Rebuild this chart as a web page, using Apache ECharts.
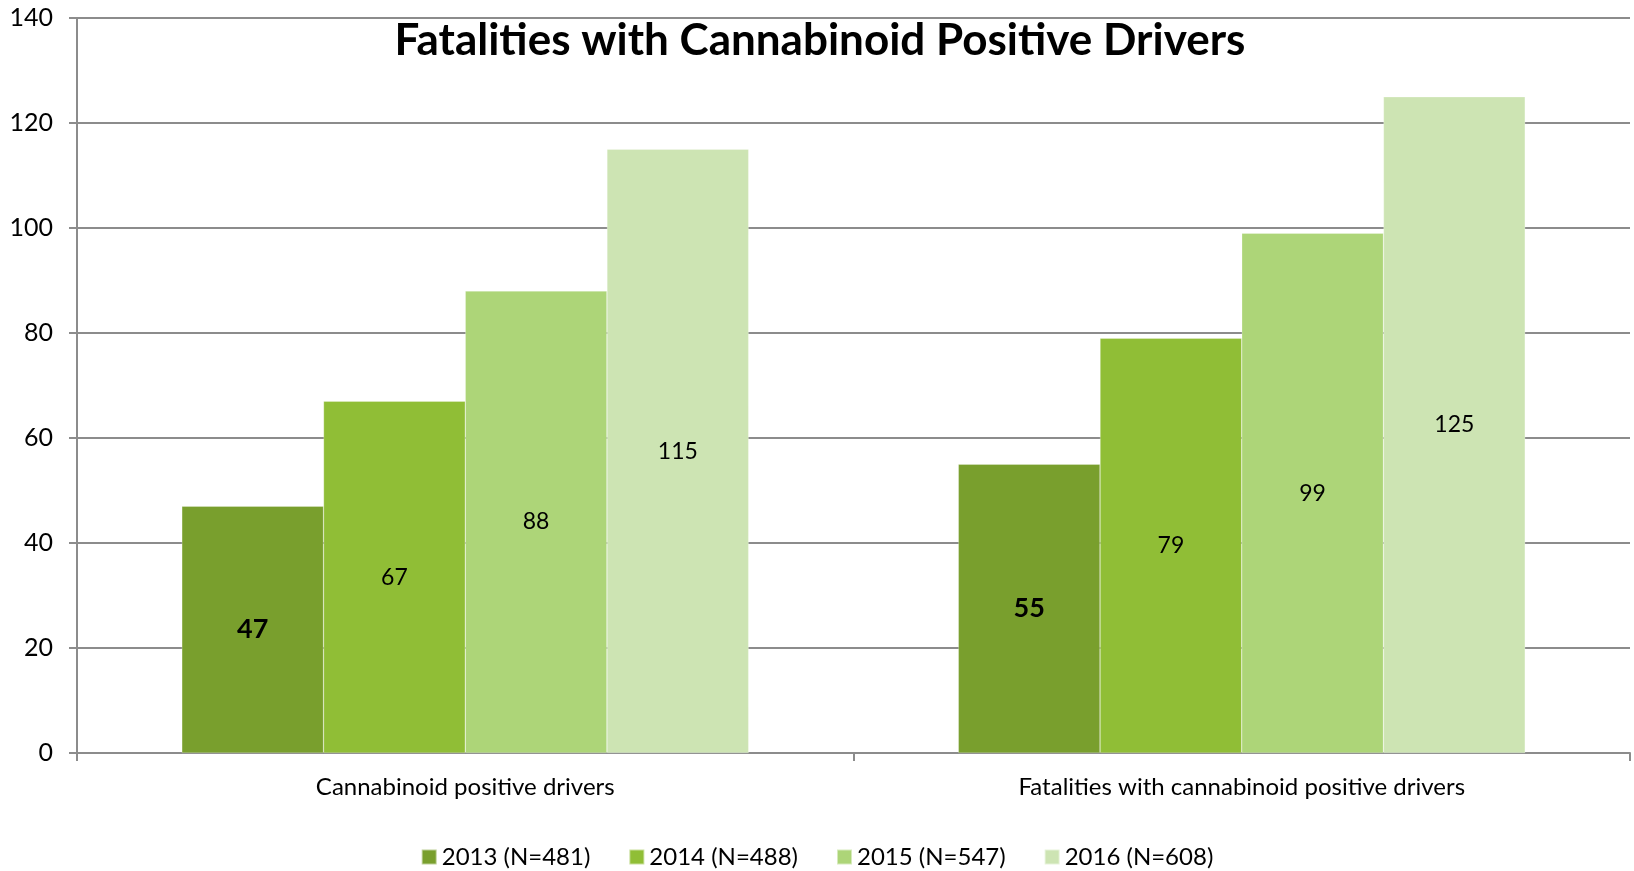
<!DOCTYPE html>
<html><head><meta charset="utf-8">
<script src="https://cdn.jsdelivr.net/npm/echarts@6/dist/echarts.min.js"></script>
<style>html,body{margin:0;padding:0;background:#fff}#c{width:1634px;height:871px}</style>
</head><body><div id="c"></div>
<script>
const categories = ['Cannabinoid positive drivers', 'Fatalities with cannabinoid positive drivers'];
const seriesNames = ['2013 (N=481)', '2014 (N=488)', '2015 (N=547)', '2016 (N=608)'];
const v2013 = [47, 55];
const v2014 = [67, 79];
const v2015 = [88, 99];
const v2016 = [115, 125];
const colors = ['#799f2d', '#90be36', '#add578', '#cde4b3'];
const values = [v2013, v2014, v2015, v2016];
const font = 'Lato, "Open Sans", sans-serif';

const chart = echarts.init(document.getElementById('c'), null, {renderer: 'canvas'});
chart.setOption({
  animation: false,
  backgroundColor: '#fff',
  title: {
    text: 'Fatalities with Cannabinoid Positive Drivers',
    left: 815, top: 14, textAlign: 'center',
    textStyle: {fontFamily: font, fontWeight: 'bold', fontSize: 44, color: '#000'}
  },
  legend: {
    top: 840, left: 'center',
    itemWidth: 15, itemHeight: 15, itemGap: 38,
    icon: 'rect',
    textStyle: {fontFamily: font, fontSize: 24, color: '#000'},
    data: seriesNames
  },
  grid: {left: 77, right: 4, top: 18, bottom: 118, containLabel: false},
  xAxis: {
    type: 'category', data: categories,
    axisLine: {lineStyle: {color: '#8c8c8c', width: 2}},
    axisTick: {show: true, length: 8, lineStyle: {color: '#8c8c8c', width: 2}},
    axisLabel: {fontFamily: font, fontSize: 24, color: '#000', margin: 22}
  },
  yAxis: {
    type: 'value', min: 0, max: 140, interval: 20,
    axisLine: {show: true, lineStyle: {color: '#8c8c8c', width: 2}},
    axisTick: {show: true, length: 8, lineStyle: {color: '#8c8c8c', width: 2}},
    splitLine: {lineStyle: {color: '#8c8c8c', width: 2}},
    axisLabel: {fontFamily: font, fontSize: 25, color: '#000', margin: 24}
  },
  series: seriesNames.map((n, i) => ({
    name: n, type: 'bar', data: values[i],
    barGap: '0%', barCategoryGap: '27%',
    itemStyle: {color: colors[i], borderColor: 'rgba(255,255,255,0.5)', borderWidth: 0.5},
    label: {
      show: true, position: 'inside',
      fontFamily: font, color: '#000',
      fontSize: i === 0 ? 27 : 23,
      fontWeight: i === 0 ? 'bold' : 'normal'
    }
  }))
});
</script></body></html>
